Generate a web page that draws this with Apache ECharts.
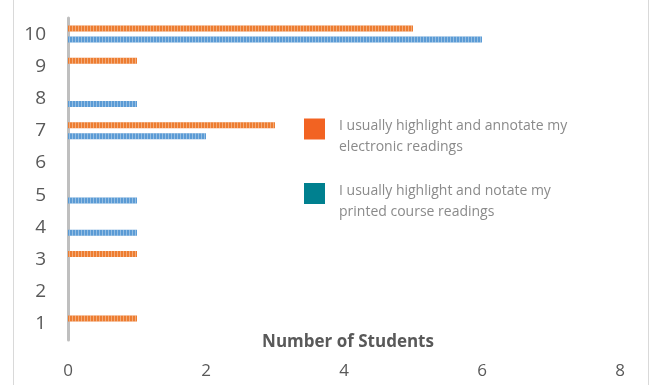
<!DOCTYPE html>
<html>
<head>
<meta charset="utf-8">
<script src="https://cdn.jsdelivr.net/npm/echarts@6/dist/echarts.min.js"></script>
<style>
  html, body { margin: 0; padding: 0; background: #fff; }
  #chart { width: 654px; height: 385px; }
</style>
</head>
<body>
<div id="chart"></div>
<script>
// Rating categories shown on the vertical axis
var categories = ['1', '2', '3', '4', '5', '6', '7', '8', '9', '10'];
// Counts of students for each rating
var electronicCounts = [1, 0, 1, 0, 0, 0, 3, 0, 1, 5];
var printedCounts = [0, 0, 0, 1, 1, 0, 2, 1, 0, 6];
// Value axis ticks
var xTicks = [0, 2, 4, 6, 8];

var electronicName = 'I usually highlight and annotate my\nelectronic readings';
var printedName = 'I usually highlight and notate my\nprinted course readings';

function stripes(color) {
  return {
    color: color,
    symbol: 'rect',
    symbolSize: 1,
    dashArrayX: [1, 2],
    dashArrayY: [6, 0],
    rotation: 0
  };
}

var chart = echarts.init(document.getElementById('chart'), null, { renderer: 'canvas' });

chart.setOption({
  animation: false,
  backgroundColor: '#ffffff',
  textStyle: { fontFamily: 'Open Sans, sans-serif' },
  grid: { left: 68, right: 34, top: 18, bottom: 45, outerBoundsMode: 'none', containLabel: false },
  legend: {
    orient: 'vertical',
    left: 304,
    top: 100,
    padding: 0,
    itemWidth: 21,
    itemHeight: 21,
    itemGap: 10,
    icon: 'rect',
    selectedMode: false,
    // a short spacer line lets the two text lines sit lower than the swatch centre
    formatter: function (name) {
      return '{s| }\n' + name.split('\n').map(function (l) { return '{t|' + l + '}'; }).join('\n');
    },
    textStyle: {
      padding: [0, 0, 0, 9],
      rich: {
        s: { fontSize: 10, lineHeight: 16, height: 16 },
        t: { fontFamily: 'Open Sans', fontSize: 14, color: '#8a8a8a', lineHeight: 21 }
      }
    },
    data: [
      { name: electronicName, itemStyle: { color: '#F26322', decal: 'none' } },
      { name: printedName, itemStyle: { color: '#00808F', decal: 'none' } }
    ]
  },
  xAxis: {
    type: 'value',
    min: 0,
    max: 8,
    interval: 2,
    axisLine: { show: false },
    axisTick: { show: false },
    splitLine: { show: false },
    axisLabel: {
      fontFamily: 'Open Sans',
      fontSize: 17,
      color: '#595959',
      margin: 23,
      formatter: function (v) { return xTicks.indexOf(v) >= 0 ? String(v) : ''; }
    },
    name: 'Number of Students',
    nameLocation: 'middle',
    nameGap: -6,
    nameMoveOverlap: false,
    nameTextStyle: {
      fontFamily: 'Open Sans',
      fontSize: 17,
      fontWeight: 'bold',
      color: '#595959',
      padding: [0, 0, 0, 8]
    }
  },
  yAxis: {
    type: 'category',
    data: categories,
    axisLine: { show: true, lineStyle: { color: '#bfbfbf', width: 3 } },
    axisTick: { show: false },
    axisLabel: {
      fontFamily: 'Open Sans',
      fontSize: 19,
      color: '#595959',
      margin: 22
    }
  },
  series: [
    {
      name: electronicName,
      type: 'bar',
      data: electronicCounts,
      barWidth: 6,
      barGap: '83%',
      itemStyle: { color: '#ED7D31', decal: stripes('rgba(255,255,255,0.35)') }
    },
    {
      name: printedName,
      type: 'bar',
      data: printedCounts,
      barWidth: 6,
      barGap: '83%',
      itemStyle: { color: '#5B9BD5', decal: stripes('rgba(255,255,255,0.35)') }
    }
  ],
  graphic: [
    { type: 'line', shape: { x1: 13.5, y1: 0, x2: 13.5, y2: 385 }, style: { stroke: '#d9d9d9', lineWidth: 1 } },
    { type: 'line', shape: { x1: 648.5, y1: 0, x2: 648.5, y2: 385 }, style: { stroke: '#d9d9d9', lineWidth: 1 } }
  ]
});
</script>
</body>
</html>
